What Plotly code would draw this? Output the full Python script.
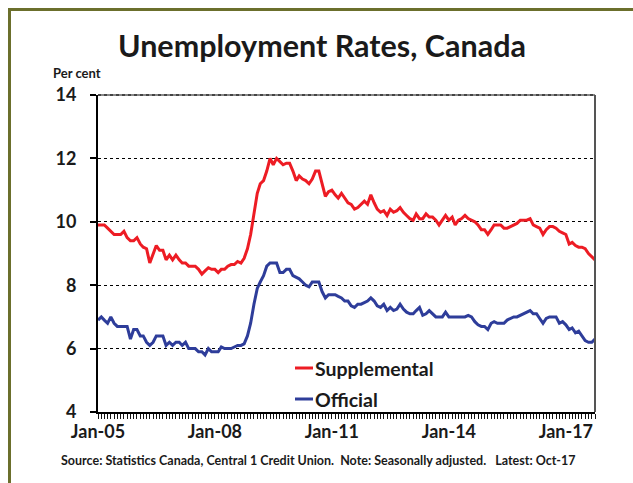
import pandas as pd
import plotly.graph_objects as go

# ---- data (monthly, Jan-2005 .. Oct-2017), per cent ----
supplemental = [
    9.9, 9.9, 9.9, 9.8, 9.7, 9.6, 9.6, 9.6, 9.7, 9.5, 9.4, 9.4, 9.5, 9.3, 9.2, 9.15, 8.7, 9.0, 9.25, 9.1,
    9.1, 8.8, 8.95, 8.8, 8.95, 8.8, 8.7, 8.7, 8.6, 8.6, 8.6, 8.5, 8.35, 8.45, 8.55, 8.5, 8.5, 8.4,
    8.5, 8.5, 8.6, 8.65, 8.65, 8.75, 8.7, 8.85, 9.15, 9.6, 10.3, 10.9, 11.2, 11.3, 11.6, 12.0, 11.8, 12.0,
    11.9, 11.8, 11.85, 11.85, 11.6, 11.3, 11.45, 11.35, 11.3, 11.2, 11.35, 11.6, 11.6, 11.2, 10.8, 10.95,
    11.0, 10.85, 10.75,
    10.9, 10.75, 10.6, 10.55, 10.4, 10.45, 10.55, 10.65, 10.55, 10.85, 10.6, 10.4, 10.3, 10.35, 10.2, 10.4,
    10.3, 10.35, 10.45, 10.3, 10.2, 10.1, 10.05, 10.25, 10.1, 10.1, 10.25, 10.15, 10.15, 10.05, 9.9, 10.05,
    10.2, 10.05, 10.15, 9.9, 10.05, 10.1,
    10.2, 10.1, 10.05, 10.0, 9.9, 9.75, 9.75, 9.6, 9.75, 9.9, 9.9, 9.9, 9.8, 9.8, 9.85, 9.9, 9.95, 10.05,
    10.05, 10.05, 10.1, 9.9, 9.85, 9.8, 9.6, 9.75, 9.85, 9.85, 9.8, 9.7, 9.65, 9.6, 9.3, 9.35, 9.25, 9.2,
    9.2, 9.15, 9.0, 8.9, 8.8,
]
official = [
    6.9, 7.0, 6.9, 6.8, 7.0, 6.8, 6.7, 6.7, 6.7, 6.7, 6.3, 6.6, 6.6, 6.4, 6.4, 6.2, 6.1, 6.2, 6.4, 6.4,
    6.4, 6.1, 6.2, 6.1, 6.2, 6.2, 6.1, 6.2, 6.0, 6.0, 6.0, 5.9, 5.9, 5.8, 6.0, 5.9, 5.9, 5.9,
    6.05, 6.0, 6.0, 6.0, 6.05, 6.1, 6.1, 6.15, 6.4, 6.8, 7.4, 7.9, 8.1, 8.3, 8.6, 8.7, 8.7, 8.7, 8.4, 8.4,
    8.5, 8.5, 8.3, 8.25, 8.2, 8.1, 8.0, 7.95, 8.1, 8.1, 8.1, 7.8, 7.6, 7.7, 7.7, 7.7, 7.65,
    7.6, 7.5, 7.5, 7.35, 7.3, 7.4, 7.4, 7.45, 7.5, 7.6, 7.5, 7.35, 7.3, 7.4, 7.2, 7.3, 7.2, 7.25, 7.4, 7.25,
    7.15, 7.1, 7.1, 7.2, 7.3, 7.05, 7.1, 7.2, 7.1, 7.0, 7.0, 7.0, 7.15, 7.0, 7.0, 7.0, 7.0, 7.0,
    7.0, 7.05, 7.0, 6.85, 6.75, 6.7, 6.7, 6.6, 6.8, 6.85, 6.8, 6.8, 6.8, 6.9, 6.95, 7.0, 7.0, 7.05, 7.1,
    7.15, 7.2, 7.1, 7.1, 6.95, 6.8, 6.95, 7.0, 7.0, 7.0, 6.8, 6.85, 6.75, 6.6, 6.65, 6.5, 6.55, 6.4, 6.25,
    6.2, 6.2, 6.3,
]
assert len(supplemental) == len(official)
months = pd.date_range("2005-01-01", periods=len(official), freq="MS")

y_ticks = [4, 6, 8, 10, 12, 14]
label_every = 36  # Jan-05, Jan-08, Jan-11, Jan-14, Jan-17
x_tick_text = [d.strftime("%b-%y") if i % label_every == 0 else "" for i, d in enumerate(months)]

series_names = ["Supplemental", "Official"]
series_colors = ["#ed1c24", "#2e3d9a"]

# ---- layout geometry (pixels) ----
W, H = 633, 483
L, R, T, B = 98, 38, 95, 71
PW, PH = W - L - R, H - T - B


def px(xp):
    return (xp - L) / PW


def py(yp):
    return (H - B - yp) / PH


FONT = "Lato"
TXT = "#1a1a1a"

fig = go.Figure()
for name, vals, col in zip(series_names, [supplemental, official], series_colors):
    fig.add_trace(go.Scatter(x=months, y=vals, mode="lines", name=name,
                             line=dict(color=col, width=3), showlegend=False,
                             hoverinfo="x+y"))

fig.update_layout(
    width=W, height=H,
    margin=dict(l=L, r=R, t=T, b=B),
    paper_bgcolor="white", plot_bgcolor="white",
    font=dict(family=FONT, color=TXT),
    xaxis=dict(
        range=[months[0], months[-1]],
        tickmode="array", tickvals=months, ticktext=x_tick_text,
        ticks="outside", ticklen=5, tickwidth=1, tickcolor="#111",
        showline=True, linecolor="black", linewidth=2,
        showgrid=False, zeroline=False,
        tickfont=dict(family=FONT, size=18, color=TXT, weight="bold"),
        ticklabelstandoff=-3,
    ),
    yaxis=dict(
        range=[4, 14], tickvals=y_ticks,
        ticks="outside", ticklen=6, tickwidth=1.5, tickcolor="black",
        showline=True, linecolor="black", linewidth=2,
        showgrid=True, gridcolor="black", gridwidth=1, griddash="dot",
        zeroline=False,
        tickfont=dict(family=FONT, size=18, color=TXT, weight="bold"),
        ticklabelstandoff=10,
    ),
)

shapes = [
    # top line at 14 (gray frame + dotted)
    dict(type="line", xref="paper", yref="paper", x0=0, x1=1, y0=1, y1=1,
         line=dict(color="#888888", width=2)),
    dict(type="line", xref="paper", yref="paper", x0=0, x1=1, y0=1, y1=1,
         line=dict(color="black", width=1, dash="dot")),
    # right frame line of plot
    dict(type="line", xref="paper", yref="paper", x0=1, x1=1, y0=0, y1=1,
         line=dict(color="#555555", width=2)),
    # olive outer frame (top & left visible)
    dict(type="rect", xref="paper", yref="paper", x0=px(9.5), x1=px(660), y0=py(9.5), y1=py(510),
         line=dict(color="#6b6f2c", width=3)),
]
# legend samples
leg_y = [368, 399]
for yy, col in zip(leg_y, series_colors):
    shapes.append(dict(type="line", xref="paper", yref="paper", x0=px(295), x1=px(313),
                       y0=py(yy), y1=py(yy), line=dict(color=col, width=3)))
fig.update_layout(shapes=shapes)

annotations = [
    dict(text="Unemployment Rates, Canada", x=px(322), y=py(45), xref="paper", yref="paper",
         xanchor="center", yanchor="middle", showarrow=False,
         font=dict(family=FONT, size=30.5, color=TXT, weight="bold")),
    dict(text="Per cent", x=px(51), y=py(73), xref="paper", yref="paper",
         xanchor="left", yanchor="middle", showarrow=False,
         font=dict(family=FONT, size=13, color=TXT, weight="bold")),
    dict(text="Source: Statistics Canada, Central 1 Credit Union.&nbsp; Note: Seasonally adjusted.&nbsp;&nbsp; Latest: Oct-17",
         x=px(318), y=py(460), xref="paper", yref="paper",
         xanchor="center", yanchor="middle", showarrow=False,
         font=dict(family=FONT, size=12.5, color=TXT, weight="bold")),
]
for yy, name in zip(leg_y, series_names):
    annotations.append(dict(text=name, x=px(313), y=py(yy), xref="paper", yref="paper",
                            xanchor="left", yanchor="middle", showarrow=False,
                            font=dict(family=FONT, size=19.5, color=TXT, weight="bold")))
fig.update_layout(annotations=annotations)

fig.write_html("out.html")
